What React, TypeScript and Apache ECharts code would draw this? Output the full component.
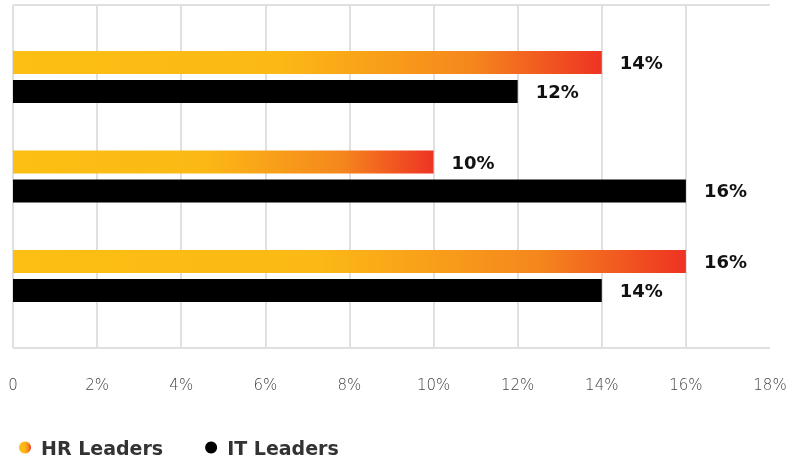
import React, { useEffect, useRef } from "react";
import * as echarts from "echarts";

const categories = ["Group A", "Group B", "Group C"];
const hrLeaders = [14, 10, 16];
const itLeaders = [12, 16, 14];
const xTicks = [0, 2, 4, 6, 8, 10, 12, 14, 16, 18];

export default function App() {
  const ref = useRef<HTMLDivElement>(null);
  useEffect(() => {
    if (!ref.current) return;
    const chart = echarts.init(ref.current, null, { renderer: "svg" });
    const hrGradient = new echarts.graphic.LinearGradient(0, 0, 1, 0, [
      { offset: 0, color: "#FDBF13" },
      { offset: 0.45, color: "#FCB915" },
      { offset: 0.78, color: "#F5871D" },
      { offset: 1, color: "#EE3323" },
    ]);
    const splitColors = xTicks.map((t, i) =>
      i === xTicks.length - 1 ? "rgba(0,0,0,0)" : "#e0e0e0"
    );
    const makeLabel = () => ({
      show: true,
      position: "right",
      distance: 18,
      color: "#111",
      fontFamily: "DejaVu Sans",
      fontWeight: "bold",
      fontSize: 18,
      formatter: (p: any) => p.value + "%",
    });
    chart.setOption({
      animation: false,
      grid: [
        { left: 13, right: 29, top: 5, height: 343, containLabel: false },
        { left: 13, right: 29, top: 27.25, height: 298.5, containLabel: false },
      ],
      legend: {
        left: 14,
        top: 433,
        icon: "circle",
        itemWidth: 12,
        itemHeight: 12,
        itemGap: 42,
        textStyle: {
          color: "#333",
          fontFamily: "DejaVu Sans",
          fontWeight: "bold",
          fontSize: 19,
          padding: [0, 0, 0, 5],
        },
        data: ["HR Leaders", "IT Leaders"],
      },
      graphic: [
        {
          type: "rect",
          right: 26,
          top: 7,
          shape: { width: 6, height: 339 },
          style: { fill: "#ffffff" },
          silent: true,
          z: 100,
        },
      ],
      xAxis: [
        {
          gridIndex: 0,
          type: "value",
          min: xTicks[0],
          max: xTicks[xTicks.length - 1],
          interval: 2,
          axisLine: { show: false },
          axisTick: { show: false },
          splitLine: {
            show: true,
            showMaxLine: false,
            lineStyle: { color: splitColors, width: 2 },
          },
          axisLabel: {
            margin: 29,
            color: "#444",
            fontFamily: "DejaVu Sans",
            fontWeight: 200,
            fontSize: 15,
            formatter: (v: number) => (v === 0 ? "0" : v + "%"),
          },
        },
        {
          gridIndex: 1,
          type: "value",
          min: 0,
          max: 18,
          interval: 2,
          show: false,
        },
      ],
      yAxis: [
        {
          gridIndex: 0,
          type: "category",
          data: [""],
          axisLine: { show: false },
          axisTick: { show: false },
          axisLabel: { show: false },
          splitLine: { show: true, lineStyle: { color: "#e0e0e0", width: 2 } },
        },
        {
          gridIndex: 1,
          type: "category",
          data: categories,
          inverse: true,
          show: false,
        },
      ],
      series: [
        {
          name: "HR Leaders",
          type: "bar",
          xAxisIndex: 1,
          yAxisIndex: 1,
          data: hrLeaders,
          barWidth: 23,
          barGap: "26%",
          itemStyle: { color: hrGradient },
          label: makeLabel(),
        },
        {
          name: "IT Leaders",
          type: "bar",
          xAxisIndex: 1,
          yAxisIndex: 1,
          data: itLeaders,
          barWidth: 23,
          barGap: "26%",
          itemStyle: { color: "#000" },
          label: makeLabel(),
        },
      ],
    });
    return () => chart.dispose();
  }, []);
  return (
    <div
      ref={ref}
      style={{ position: "fixed", left: 0, top: 0, width: 799, height: 462 }}
    />
  );
}
